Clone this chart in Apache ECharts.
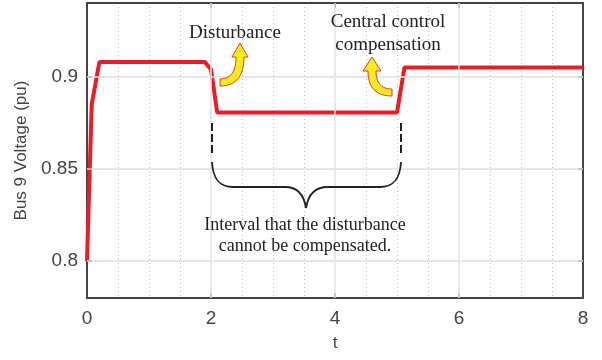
<!DOCTYPE html>
<html><head><meta charset="utf-8">
<script src="https://cdn.jsdelivr.net/npm/echarts@6/dist/echarts.min.js"></script>
<style>html,body{margin:0;padding:0;background:#fff}#c{width:602px;height:360px}</style>
</head><body><div id="c"></div>
<script>
// Data
const tValues = [0, 0.076, 0.2, 1.9, 2.0, 2.1, 5.0, 5.12, 8];
const voltage = [0.8, 0.885, 0.908, 0.908, 0.904, 0.8806, 0.8806, 0.905, 0.905];
const yMajorTicks = [0.8, 0.85, 0.9];
const xMajorGrid = [2, 4, 6];
const yAxisName = 'Bus 9 Voltage (pu)';
const xAxisName = 't';
const noteDisturbance = 'Disturbance';
const noteControl = ['Central control', 'compensation'];
const noteInterval = ['Interval that the disturbance', 'cannot be compensated.'];

const seriesData = tValues.map((t, i) => [t, voltage[i]]);

function quad(p0, c, p1, n) {
  const pts = [];
  for (let i = 0; i <= n; i++) {
    const s = i / n;
    pts.push([
      (1 - s) * (1 - s) * p0[0] + 2 * (1 - s) * s * c[0] + s * s * p1[0],
      (1 - s) * (1 - s) * p0[1] + 2 * (1 - s) * s * c[1] + s * s * p1[1]
    ]);
  }
  return pts;
}
const arrow1 = [[240, 43], [248, 57], [244, 57]]
  .concat(quad([244, 57], [244, 86], [220, 86], 12))
  .concat([[220, 79]])
  .concat(quad([220, 79], [236, 79], [236, 57], 12))
  .concat([[232, 57]]);
const arrow2 = [[372, 57], [381, 71], [376, 71]]
  .concat(quad([376, 71], [376, 89], [392, 89], 12))
  .concat([[392, 96]])
  .concat(quad([392, 96], [368, 96], [368, 71], 12))
  .concat([[363, 71]]);

const axisColor = '#444';
const serif = '"Liberation Serif", "Times New Roman", serif';
const ink = '#222';
const dotted = { color: '#bdbdbd', type: [1, 3], width: 1 };

const chart = echarts.init(document.getElementById('c'));
chart.setOption({
  animation: false,
  backgroundColor: '#fff',
  grid: { left: 87, right: 19, top: 3, bottom: 62 },
  xAxis: [{
    type: 'value', min: 0, max: 8, interval: 2, position: 'bottom',
    name: xAxisName, nameLocation: 'middle', nameGap: 37,
    nameTextStyle: { fontSize: 17, color: axisColor, fontFamily: 'Liberation Sans' },
    axisLine: { show: true, onZero: false, lineStyle: { color: axisColor, width: 2 } },
    axisTick: { show: true, inside: true, length: 5, lineStyle: { color: axisColor, width: 1.5 } },
    axisLabel: { fontSize: 19, color: axisColor, margin: 11, fontFamily: 'Liberation Sans' },
    splitLine: { show: false },
    minorTick: { show: false, splitNumber: 4 },
    minorSplitLine: { show: true, lineStyle: dotted }
  }, {
    type: 'value', min: 0, max: 8, interval: 2, position: 'top',
    axisLine: { show: true, onZero: false, lineStyle: { color: axisColor, width: 2 } },
    axisTick: { show: true, inside: true, length: 5, lineStyle: { color: axisColor, width: 1.5 } },
    axisLabel: { show: false }, splitLine: { show: false }
  }],
  yAxis: [{
    type: 'value', min: 0.78, max: 0.94, interval: 0.01, position: 'left',
    name: yAxisName, nameLocation: 'middle', nameGap: 57,
    nameTextStyle: { fontSize: 17, color: axisColor, fontFamily: 'Liberation Sans' },
    axisLine: { show: true, onZero: false, lineStyle: { color: axisColor, width: 2 } },
    axisTick: { show: true, inside: true, length: 5, customValues: yMajorTicks, lineStyle: { color: axisColor, width: 1.5 } },
    axisLabel: {
      fontSize: 19, color: axisColor, margin: 9, fontFamily: 'Liberation Sans',
      customValues: yMajorTicks,
      formatter: v => (Math.round(v * 100) % 5 === 0 ? String(+(+v).toFixed(2)) : '')
    },
    splitLine: { show: true, lineStyle: dotted }
  }, {
    type: 'value', min: 0.78, max: 0.94, interval: 0.01, position: 'right',
    axisLine: { show: true, onZero: false, lineStyle: { color: axisColor, width: 2 } },
    axisTick: { show: true, inside: true, length: 5, customValues: yMajorTicks, lineStyle: { color: axisColor, width: 1.5 } },
    axisLabel: { show: false }, splitLine: { show: false }
  }],
  series: [{
    type: 'line', xAxisIndex: 0, yAxisIndex: 0, z: 1,
    data: seriesData, showSymbol: false, silent: true,
    lineStyle: { opacity: 0 },
    markLine: {
      silent: true, symbol: ['none', 'none'], label: { show: false },
      lineStyle: { color: '#e2e2e2', type: 'solid', width: 1.5 },
      data: yMajorTicks.map(v => ({ yAxis: v })).concat(xMajorGrid.map(v => ({ xAxis: v })))
    }
  }, {
    type: 'line', xAxisIndex: 0, yAxisIndex: 0, z: 3,
    data: seriesData, showSymbol: false, smooth: false,
    lineStyle: { color: '#ec1c24', width: 4 }
  }],
  graphic: [
    { type: 'text', z: 10, style: { text: noteDisturbance, x: 235, y: 33, align: 'center', verticalAlign: 'middle', font: '19px ' + serif, fill: ink } },
    { type: 'text', z: 10, style: { text: noteControl[0], x: 388, y: 22, align: 'center', verticalAlign: 'middle', font: '19px ' + serif, fill: ink } },
    { type: 'text', z: 10, style: { text: noteControl[1], x: 388, y: 45, align: 'center', verticalAlign: 'middle', font: '19px ' + serif, fill: ink } },
    { type: 'text', z: 10, style: { text: noteInterval[0], x: 305, y: 225, align: 'center', verticalAlign: 'middle', font: '18px ' + serif, fill: ink } },
    { type: 'text', z: 10, style: { text: noteInterval[1], x: 305, y: 246, align: 'center', verticalAlign: 'middle', font: '18px ' + serif, fill: ink } },
    { type: 'polygon', z: 10, shape: { points: arrow1 }, style: { fill: '#f7ea1e', stroke: '#e83a2a', lineWidth: 1 } },
    { type: 'polygon', z: 10, shape: { points: arrow2 }, style: { fill: '#f7ea1e', stroke: '#e83a2a', lineWidth: 1 } },
    { type: 'line', z: 10, shape: { x1: 212, y1: 123, x2: 212, y2: 153 }, style: { stroke: ink, lineWidth: 2, lineDash: [8, 3] } },
    { type: 'line', z: 10, shape: { x1: 401, y1: 123, x2: 401, y2: 153 }, style: { stroke: ink, lineWidth: 2, lineDash: [8, 3] } },
    { type: 'bezierCurve', z: 10, shape: { x1: 212, y1: 162, x2: 233, y2: 187, cpx1: 213, cpy1: 180, cpx2: 220, cpy2: 187 }, style: { stroke: ink, lineWidth: 1.8, fill: null } },
    { type: 'line', z: 10, shape: { x1: 233, y1: 187, x2: 285, y2: 187 }, style: { stroke: ink, lineWidth: 1.8 } },
    { type: 'bezierCurve', z: 10, shape: { x1: 285, y1: 187, x2: 306, y2: 208, cpx1: 298, cpy1: 187, cpx2: 304, cpy2: 195 }, style: { stroke: ink, lineWidth: 1.8, fill: null } },
    { type: 'bezierCurve', z: 10, shape: { x1: 306, y1: 208, x2: 328, y2: 187, cpx1: 308, cpy1: 195, cpx2: 314, cpy2: 187 }, style: { stroke: ink, lineWidth: 1.8, fill: null } },
    { type: 'line', z: 10, shape: { x1: 328, y1: 187, x2: 380, y2: 187 }, style: { stroke: ink, lineWidth: 1.8 } },
    { type: 'bezierCurve', z: 10, shape: { x1: 380, y1: 187, x2: 401, y2: 162, cpx1: 393, cpy1: 187, cpx2: 400, cpy2: 180 }, style: { stroke: ink, lineWidth: 1.8, fill: null } }
  ]
});
</script></body></html>
